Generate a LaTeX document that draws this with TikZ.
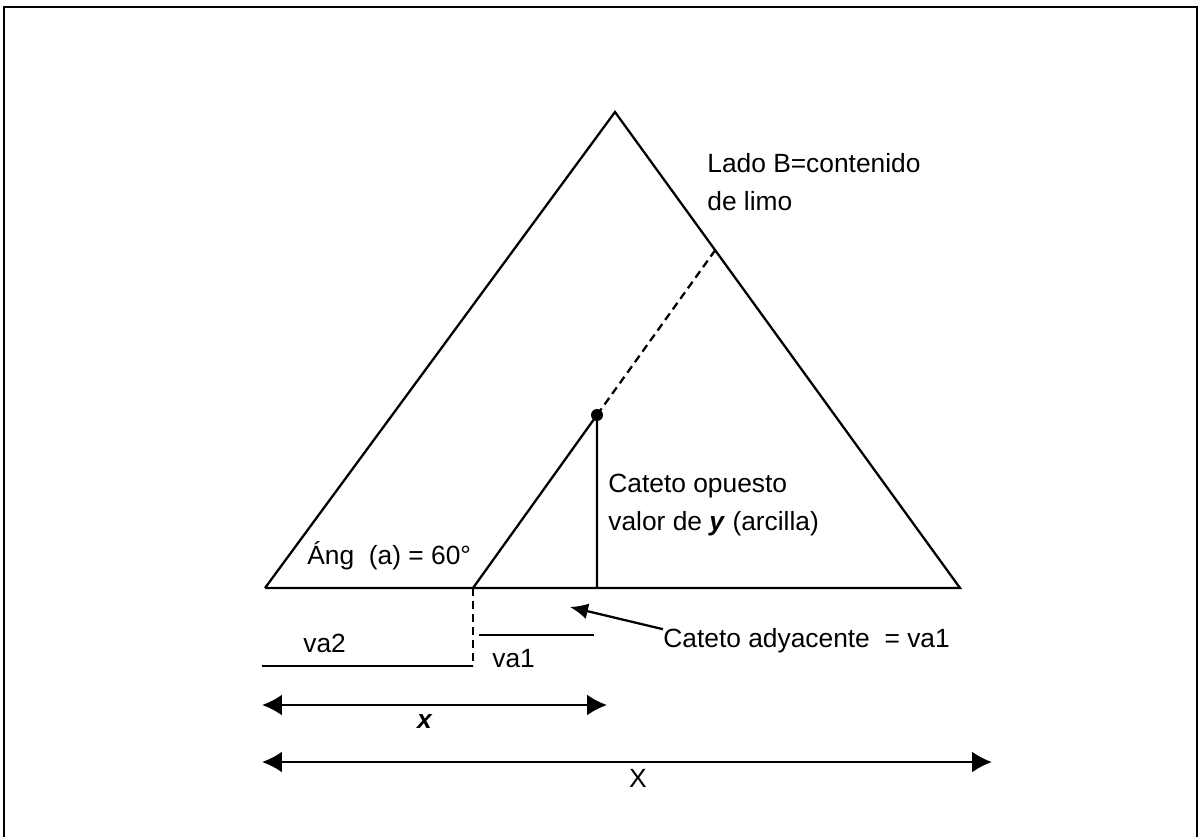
\documentclass[tikz,border=0pt]{standalone}
\usepackage{fontspec}
\setmainfont{Liberation Sans}
\usetikzlibrary{arrows.meta,positioning}

\begin{document}
\begin{tikzpicture}[x=0.02cm,y=-0.02cm,
  every node/.style={inner sep=0pt,font=\fontsize{15}{21.5}\selectfont},
  line/.style={line width=1.3pt}
]

\tikzstyle{lbl}=[anchor=base west,align=left]
\tikzset{dim arrow/.style={line width=1.3pt,{Latex[length=0.4cm,width=0.42cm]}-{Latex[length=0.4cm,width=0.42cm]}}}
\tikzset{dash line/.style={line width=1.3pt,dash pattern=on 0.16cm off 0.1cm}}

\useasboundingbox (0,0) rectangle (1200,836);
\draw[line] (4,850) -- (4,7) -- (1197,7) -- (1197,850);

% main triangle
\coordinate (apex)  at (615,112);
\coordinate (left)  at (265,588);
\coordinate (right) at (960,588);
\draw[line] (left) -- (apex) -- (right) -- (left);

% inner triangle
\coordinate (in1)  at (473,588);
\coordinate (top)  at (597,415);
\coordinate (foot) at (597,588);
\coordinate (side) at (intersection of in1--top and apex--right);
\draw[line] (in1) -- (top) -- (foot);
\draw[dash line] (top) -- (side);
\fill (top) circle (6);

% va1 and va2
\coordinate (drop) at (473,666);
\coordinate (va2l) at (262,666);
\coordinate (va1l) at (479,635);
\coordinate (va1r) at (594,635);
\draw[dash line] (in1) -- (drop);
\draw[line] (va2l) -- (drop);
\draw[line] (va1l) -- (va1r);
\node[lbl] (va2) at (303,652) {va2};
\node[lbl] (va1) at (492,667) {va1};

% dimension arrows
\coordinate (xl) at (262,705);
\coordinate (xr) at (607,705);
\coordinate (Xl) at (262,762);
\coordinate (Xr) at (992,762);
\draw[dim arrow] (xl) -- (xr);
\draw[dim arrow] (Xl) -- (Xr);
\node[anchor=base] (xsmall) at (425,728) {\textbf{\textit{x}}};
\node[anchor=base] (xbig) at (638,787) {X};

% labels (base = last line)
\node[lbl] (lado) at (707,210) {Lado B=contenido\\de limo};
\node[lbl] (opuesto) at (608,530) {Cateto opuesto\\valor de \textbf{\textit{y}} (arcilla)};
\node[lbl] (ang) at (307,564) {Áng~ (a) = 60°};
\node[lbl] (adyacente) at (663,647) {Cateto adyacente~ = va1};

\coordinate (tip) at (570,607);
\draw[line,-{Latex[length=0.36cm,width=0.32cm]}] (adyacente.west) ++(0,-11) -- (tip);

\end{tikzpicture}
\end{document}
